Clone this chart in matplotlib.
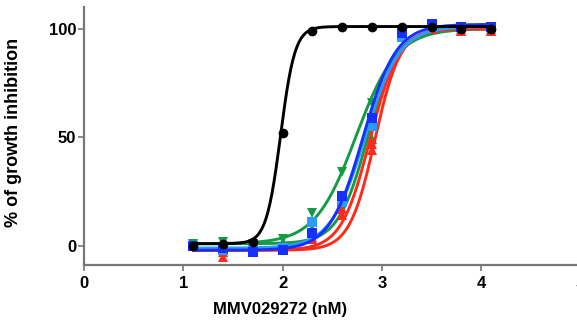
import numpy as np
import matplotlib
matplotlib.use("Agg")
import matplotlib.pyplot as plt

# ── data ──────────────────────────────────────────────────────────────────────
log_conc = [1.1, 1.4, 1.7, 2.0, 2.3, 2.6, 2.9, 3.2, 3.5, 3.8, 4.1]

black_y     = [0, 1, 2, 52, 99, 101, 101, 101, 101, 100, 100]
green_y     = [1, 2, 1, 3, 15, 34, 66, 98, 100, 100, 100]
green2_y    = [1, 1, 1, 2, 8, 20, 49, 97, 100, 100, 100]
blue_y      = [0, -1, -3, -2, 6, 23, 59, 98, 102, 101, 101]
lightblue_y = [0, -2, -2, -1, 11, 20, 55, 96, 101, 101, 101]
red_y       = [0, -5, -2, -2, 4, 17, 44, 97, 100, 99, 99]
red2_y      = [0, -3, -2, -2, 3, 14, 47, 96, 100, 99, 99]

# fitted 4PL parameters: bottom, top, logIC50, hill
black_fit     = (1, 101, 1.98, 6.0)
green_fit     = (1, 100, 2.74, 2.1)
green2_fit    = (1, 100, 2.86, 2.9)
blue_fit      = (-2, 102, 2.81, 2.6)
lightblue_fit = (-1, 101, 2.83, 2.5)
red_fit       = (-2, 100, 2.88, 3.0)
red2_fit      = (-2, 100, 2.93, 3.4)

x_ticks = [0, 1, 2, 3, 4, 5]
y_ticks = [0, 50, 100]

# ── styles ────────────────────────────────────────────────────────────────────
SERIES = [
    (green_y,     green_fit,     "#159a45", "v"),
    (green2_y,    green2_fit,    "#159a45", "^"),
    (red2_y,      red2_fit,      "#ff2a1a", "^"),
    (red_y,       red_fit,       "#ff2a1a", "^"),
    (lightblue_y, lightblue_fit, "#2b9bff", "s"),
    (blue_y,      blue_fit,      "#1530ff", "s"),
    (black_y,     black_fit,     "#000000", "o"),
]


def four_pl(x, bottom, top, logic50, hill):
    return bottom + (top - bottom) / (1 + 10 ** ((logic50 - x) * hill))


plt.rcParams["font.family"] = ["Liberation Sans", "DejaVu Sans"]
plt.rcParams["font.weight"] = "bold"

fig = plt.figure(figsize=(5.77, 3.27), dpi=100)
ax = fig.add_axes([0.1456, 0.1896, 0.912, 0.789])

xs = np.linspace(log_conc[0], log_conc[-1], 300)
for ys, fit, colour, marker in SERIES:
    ax.plot(xs, four_pl(xs, *fit), color=colour, lw=2.1, solid_capstyle="round")
    ax.plot(log_conc, ys, linestyle="none", marker=marker, color=colour,
            markersize=7, markeredgewidth=0)

ax.set_xlim(0, 5.3)
ax.set_ylim(-8.8, 110)
ax.set_xticks(x_ticks)
ax.set_yticks(y_ticks)
ax.tick_params(axis="both", colors="#777777", width=1.2, length=4.5,
               labelcolor="black", labelsize=12)
ax.tick_params(axis="y", pad=1)
ax.tick_params(axis="x", pad=3.5)
for lab in ax.get_xticklabels() + ax.get_yticklabels():
    lab.set_fontweight("bold")

ax.spines[["top", "right"]].set_visible(False)
for side in ("left", "bottom"):
    ax.spines[side].set_color("#777777")
    ax.spines[side].set_linewidth(1.6)

ax.set_xlabel("MMV029272 (nM)", fontsize=12, fontweight="bold")
ax.set_ylabel("% of growth inhibition", fontsize=13, fontweight="bold")
ax.xaxis.set_label_coords((280 - 84) / 526, -(302 - 265) / 258)
ax.yaxis.set_label_coords(-(84 - 22) / 526, (265 - 132) / 258)

fig.savefig("out.png", dpi=100)
